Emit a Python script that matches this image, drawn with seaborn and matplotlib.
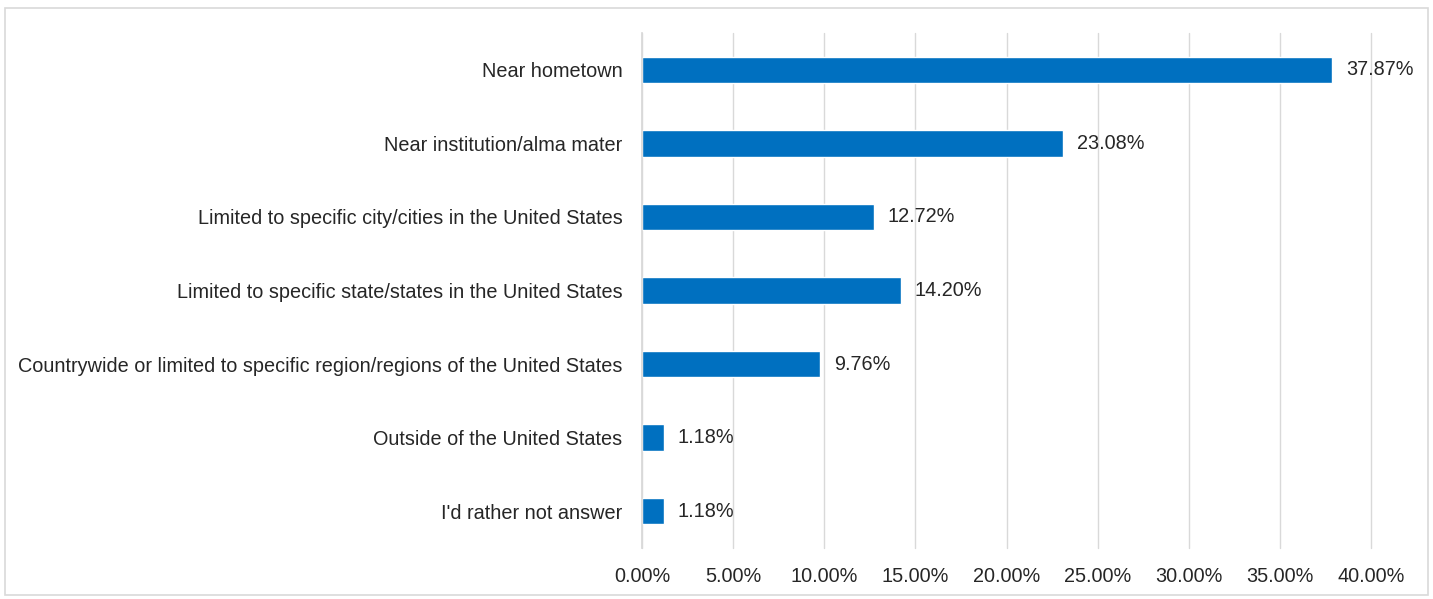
import matplotlib
matplotlib.use("Agg")
import matplotlib.pyplot as plt
import matplotlib.patches as mpatches
from matplotlib.ticker import FuncFormatter, MultipleLocator
import seaborn as sns
import pandas as pd

# Survey answers (percent of respondents)
categories = [
    "Near hometown",
    "Near institution/alma mater",
    "Limited to specific city/cities in the United States",
    "Limited to specific state/states in the United States",
    "Countrywide or limited to specific region/regions of the United States",
    "Outside of the United States",
    "I'd rather not answer",
]
shares = [37.87, 23.08, 12.72, 14.20, 9.76, 1.18, 1.18]

df = pd.DataFrame({"Location": categories, "Share": shares})

sns.set_theme(style="white")
plt.rcParams["font.family"] = ["Liberation Sans", "DejaVu Sans"]
FS = 14.3

fig = plt.figure(figsize=(14.33, 5.99), dpi=100)
ax = fig.add_axes([642 / 1433, 0.0851, 729 / 1433, 0.8598])

sns.barplot(data=df, x="Share", y="Location", color="#0070C0",
            width=0.36, saturation=1, ax=ax, orient="h")

ax.set_xlim(0, 40)
ax.set_ylim(6.5, -0.5)
ax.xaxis.set_major_locator(MultipleLocator(5))
ax.xaxis.set_major_formatter(FuncFormatter(lambda v, _: f"{v:.2f}%"))
ax.grid(axis="x", color="#D9D9D9", linewidth=1.0)
ax.set_axisbelow(True)
for gl in ax.get_xgridlines():
    gl.set_clip_on(False)
for side in ["top", "right", "bottom"]:
    ax.spines[side].set_visible(False)
ax.spines["left"].set_color("#D9D9D9")
ax.set_xlabel("")
ax.set_ylabel("")
ax.tick_params(axis="both", length=0, labelsize=FS, colors="#262626")
ax.tick_params(axis="y", pad=14)
ax.tick_params(axis="x", pad=14)

# value labels at the bar ends
for p, v in zip(ax.patches, shares):
    ax.annotate(f"{v:.2f}%", (p.get_width(), p.get_y() + p.get_height() / 2),
                xytext=(10, 0), textcoords="offset points",
                ha="left", va="center", fontsize=FS, color="#262626")

# light frame round the whole chart
fig.patches.append(mpatches.Rectangle((5 / 1433, 4 / 599), 1423 / 1433, 587 / 599,
                                      transform=fig.transFigure, fill=False,
                                      edgecolor="#D9D9D9", linewidth=1.2))

plt.savefig("out.png", dpi=100)
